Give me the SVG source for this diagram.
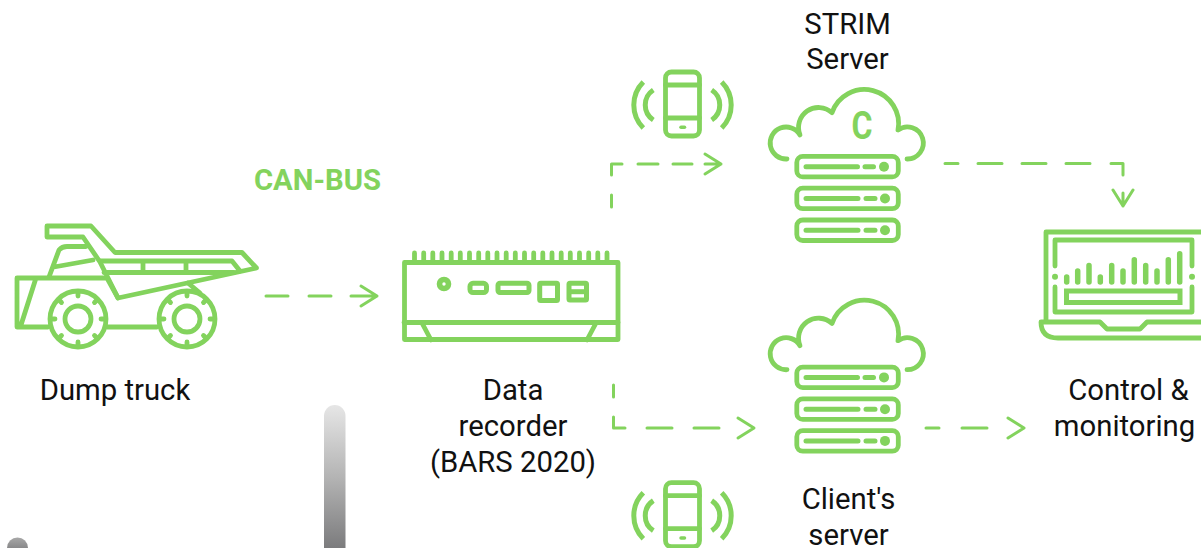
<svg xmlns="http://www.w3.org/2000/svg" xmlns:xlink="http://www.w3.org/1999/xlink" width="1201" height="548" viewBox="0 0 1201 548">
<style>
.l{font-family:Roboto,"Liberation Sans",sans-serif;font-size:29.3px;fill:#111;text-anchor:middle}
.s{fill:none;stroke:#83d35d;stroke-width:4.8;stroke-linecap:round;stroke-linejoin:round}
.b{stroke-linecap:butt}
.f{fill:#83d35d}
.c{fill:none;stroke:#83d35d;stroke-width:3;stroke-linecap:round;stroke-linejoin:round}
</style>
<defs>
<linearGradient id="g1" x1="0" y1="0" x2="0" y2="1"><stop offset="0" stop-color="#e6e6e6"/><stop offset="0.45" stop-color="#b4b4b4"/><stop offset="1" stop-color="#6e6e70"/></linearGradient>
<linearGradient id="g2" x1="0" y1="0" x2="0" y2="1"><stop offset="0" stop-color="#a8a8a8"/><stop offset="1" stop-color="#6a6a6c"/></linearGradient>
<g id="wheel" class="s">
<circle r="28"/><circle r="13"/>
<path d="M0-27V-23M0 27V23M27 0H23M-27 0H-23M19-19L16.5-16.5M-19-19L-16.5-16.5M19 19L16.5 16.5M-19 19L-16.5 16.5"/>
</g>
<g id="phone">
<rect class="s" x="665.5" y="72" width="34" height="64" rx="6"/>
<path class="s" d="M665.5 85H699.5M665.5 118H699.5"/>
<path class="s" style="stroke-width:3.5" d="M681 127.3H684.5"/>
<path class="s b" style="stroke-width:5" d="M643.3 82A32.6 32.6 0 0 0 643.3 128M653.3 90A18 18 0 0 0 653.3 120M711.7 90A18 18 0 0 1 711.7 120M721.7 82A32.6 32.6 0 0 1 721.7 128"/>
</g>
<g id="stack">
<path class="s" d="M787 159A16 16 0 1 1 800 135A20 20 0 0 1 832 112.7A34.2 34.2 0 0 1 898 130A16 16 0 1 1 907 159"/>
<g class="s">
<rect x="796.8" y="156.4" width="101.5" height="20.5" rx="6"/>
<rect x="796.8" y="188.2" width="101.5" height="20.5" rx="6"/>
<rect x="796.8" y="220" width="101.5" height="20.5" rx="6"/>
</g>
<path class="s" style="stroke-width:5" d="M806 166.7H857.5M865 166.7H873.5M806 198.5H858M866 198.5H875M806 230.2H858M866 230.2H875"/>
<circle class="f" cx="884" cy="166.7" r="5"/><circle class="f" cx="885" cy="198.5" r="5"/><circle class="f" cx="885" cy="230.2" r="5"/>
</g>
</defs>

<g id="connectors">
<path class="c" d="M266 296H288M309 296H331M351 296H377M361 286L377 296L361 306"/>
<path class="c" d="M611.5 207V195M611.5 175V164H622M638 164H658M673 164H692M705 154L721 164L705 174M705 164H721"/>
<path class="c" d="M613.5 385V397M613.5 417V428H625M647 428H672M694 428H719M738 418L754 428L738 438"/>
<path class="c" d="M945 163.5H958M978 163.5H1002M1022 163.5H1046M1066 163.5H1090M1111 163.5H1123V175M1123 193V206M1113 190L1123 206L1133 190"/>
<path class="c" d="M926 428H939M962 428H987M1008 418L1024 428L1008 438"/>
</g>

<g id="dump-truck">
<g class="s">
<path d="M118 298L256.5 268L242 252.5H115L91 226H47V237H83L100 262Z"/>
<path d="M100 261H232L240 271M104 272.5H234M143 261V272M186 261V272"/>
<path d="M49 277L59 250Q62 246.5 67 246.5H86M54 267L93 260"/>
<path d="M107 278H17V327H48M107 327H157M21 325L36 278M107 278L118 298M188 283L200 293"/>
</g>
<use xlink:href="#wheel" href="#wheel" x="78" y="319"/>
<use xlink:href="#wheel" href="#wheel" x="187" y="319"/>
<text class="l" x="115" y="400">Dump truck</text>
</g>

<text id="can-bus" x="317.5" y="190" style="font-family:Roboto,'Liberation Sans',sans-serif;font-size:29.3px;font-weight:700;fill:#83d35d;text-anchor:middle">CAN-BUS</text>

<g id="data-recorder">
<g class="s">
<rect x="404.5" y="262.5" width="213.5" height="77"/>
<path d="M404 322.5H618M422 323L431 340M596 323L587 340"/>
<path d="M414.5 253V260M423.7 253V260M432.8 253V260M442 253V260M451.2 253V260M460.3 253V260M469.5 253V260M478.7 253V260M487.8 253V260M497 253V260M506.2 253V260M515.3 253V260M524.5 253V260M533.7 253V260M542.8 253V260M552 253V260M561.2 253V260M570.3 253V260M579.5 253V260M588.7 253V260M597.8 253V260M607 253V260"/>
</g>
<circle cx="444" cy="284" r="4.5" fill="none" stroke="#83d35d" stroke-width="5.6"/>
<g fill="none" stroke="#83d35d" stroke-width="5" stroke-linejoin="round">
<rect x="470" y="283.3" width="16.5" height="9.2" rx="3"/>
<rect x="498" y="283.2" width="31" height="9.3" rx="2"/>
<rect x="539.7" y="283.2" width="17.8" height="17.3" rx="1"/>
<rect x="569" y="283.2" width="17.5" height="16.8" rx="1"/>
<path d="M569 291.7H586.5"/>
</g>
<text class="l" x="513" y="400">Data</text>
<text class="l" x="513" y="436">recorder</text>
<text class="l" x="513" y="472">(BARS 2020)</text>
</g>

<g id="phone-top"><use xlink:href="#phone" href="#phone"/></g>

<g id="strim-server">
<text class="l" x="847.5" y="33.5">STRIM</text>
<text class="l" x="847.5" y="69">Server</text>
<use xlink:href="#stack" href="#stack"/>
<text x="862" y="139" textLength="21" lengthAdjust="spacingAndGlyphs" style="font-family:Roboto,'Liberation Sans',sans-serif;font-size:38px;font-weight:700;fill:#83d35d;text-anchor:middle">C</text>
</g>

<g id="clients-server">
<use xlink:href="#stack" href="#stack" y="210.7"/>
<text class="l" x="848.5" y="509">Client's</text>
<text class="l" x="848.5" y="545">server</text>
</g>

<g id="phone-bottom"><use xlink:href="#phone" href="#phone" y="410.7"/></g>

<g id="control-monitoring">
<g class="s">
<path d="M1203 232H1046V320"/>
<path d="M1055 266V240H1192V266M1055 287V312H1192V287"/>
<path d="M1203 338H1058Q1041 338 1041 322H1100L1107 329H1140L1147 322H1203"/>
</g>
<circle class="f" cx="1055" cy="276.7" r="3"/><circle class="f" cx="1192" cy="276.7" r="3"/>
<path class="s" style="stroke-width:5.5" d="M1066.7 277V282M1077.7 271V282M1089 265.5V282M1100.3 277V282M1111.7 265.5V282M1123 271V282M1134.3 259.7V282M1145.7 265.5V282M1157 271V282M1168.3 259.7V282M1179.7 253.7V282"/>
<rect x="1066.5" y="291" width="113.5" height="11.5" fill="none" stroke="#83d35d" stroke-width="5"/>
<text class="l" x="1128.5" y="400">Control &amp;</text>
<text class="l" x="1124.5" y="436">monitoring</text>
</g>

<rect x="324" y="405" width="21.5" height="160" rx="10.7" fill="url(#g1)"/>
<circle cx="17.5" cy="548" r="10.5" fill="url(#g2)"/>
</svg>
